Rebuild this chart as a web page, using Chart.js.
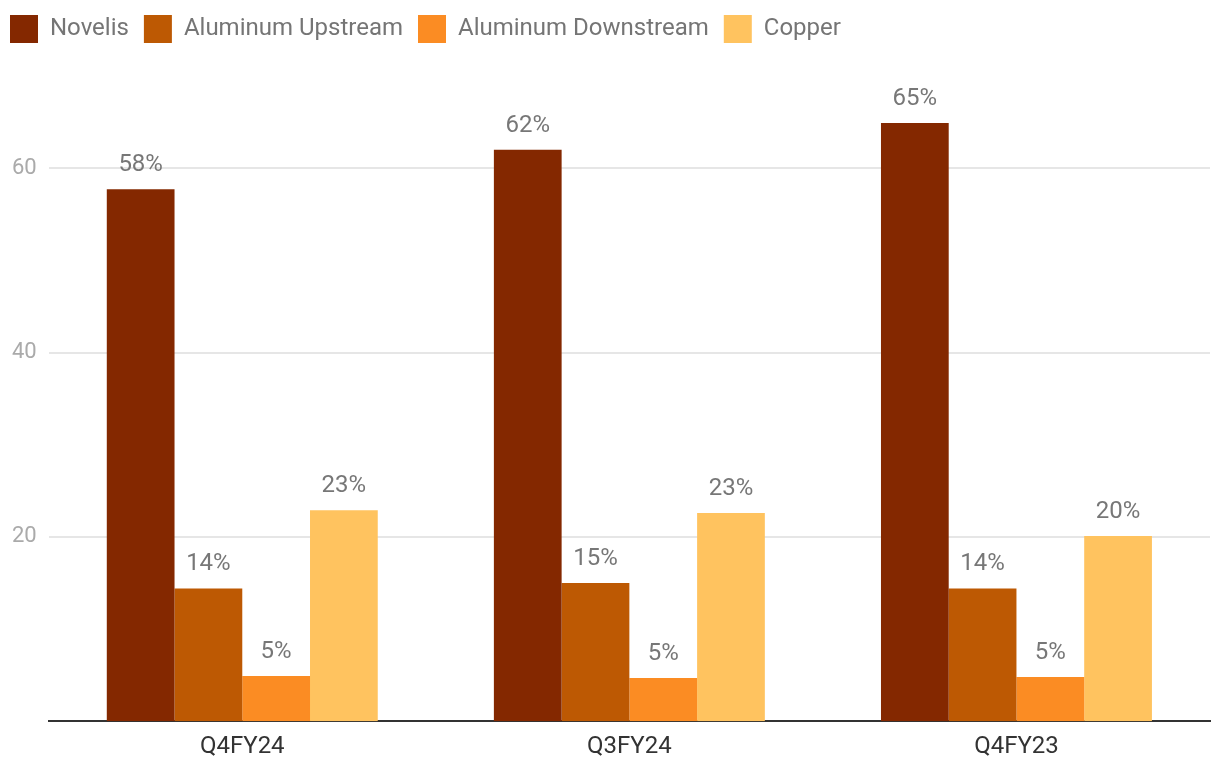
<!DOCTYPE html>
<html>
<head>
<meta charset="utf-8">
<script src="https://cdn.jsdelivr.net/npm/chart.js@4"></script>
<style>
  html, body { margin: 0; padding: 0; background: #fff; }
  #wrap { width: 1220px; height: 778px; }
</style>
</head>
<body>
<div id="wrap"><canvas id="metalChart" width="1220" height="778"></canvas></div>
<script>
// quarters on the x axis
const quarters = ['Q4FY24', 'Q3FY24', 'Q4FY23'];

// share of revenue, per segment
const novelis = [57.7, 62.0, 64.9];
const aluUpstream = [14.4, 15.0, 14.4];
const aluDownstream = [4.9, 4.7, 4.8];
const copper = [22.9, 22.6, 20.1];

const yTicks = [20, 40, 60];

// percent labels above each bar
const barLabels = {
  id: 'barLabels',
  afterDatasetsDraw(chart) {
    const ctx = chart.ctx;
    ctx.save();
    ctx.font = '24px Roboto';
    ctx.fillStyle = '#777777';
    ctx.textAlign = 'center';
    ctx.textBaseline = 'middle';
    chart.data.datasets.forEach((ds, i) => {
      chart.getDatasetMeta(i).data.forEach((bar, j) => {
        ctx.fillText(Math.round(ds.data[j]) + '%', bar.x, bar.y - 24);
      });
    });
    ctx.restore();
  }
};

// a bit more room under the legend, and pull it to the left edge
const legendSpace = {
  id: 'legendSpace',
  afterInit(chart) {
    const legend = chart.legend;
    const fit = legend.fit;
    legend.fit = function () {
      fit.call(this);
      this.height += 23;
    };
  },
  afterLayout(chart) {
    chart.legend.left -= 5;
    chart.legend.right -= 5;
  }
};

const ctx = document.getElementById('metalChart').getContext('2d');

const metalChart = new Chart(ctx, {
  type: 'bar',
  data: {
    labels: quarters,
    datasets: [
      { label: 'Novelis', data: novelis, backgroundColor: '#842800' },
      { label: 'Aluminum Upstream', data: aluUpstream, backgroundColor: '#BD5903' },
      { label: 'Aluminum Downstream', data: aluDownstream, backgroundColor: '#FB8C23' },
      { label: 'Copper', data: copper, backgroundColor: '#FFC35F' }
    ]
  },
  options: {
    responsive: false,
    maintainAspectRatio: false,
    animation: false,
    layout: { padding: { left: 0, right: 10, top: 0, bottom: 6 } },
    datasets: {
      bar: { barPercentage: 1, categoryPercentage: 0.7 }
    },
    plugins: {
      legend: {
        position: 'top',
        align: 'start',
        labels: {
          font: { family: 'Roboto', size: 24 },
          color: '#757575',
          boxWidth: 28,
          boxHeight: 28,
          padding: 15
        }
      },
      tooltip: { enabled: false }
    },
    scales: {
      x: {
        grid: { display: false, drawTicks: false },
        border: { display: true, color: '#333333', width: 2 },
        ticks: {
          font: { family: 'Roboto', size: 24 },
          color: '#333333',
          padding: 11
        }
      },
      y: {
        min: 0,
        max: 70,
        afterBuildTicks: axis => { axis.ticks = yTicks.map(v => ({ value: v })); },
        grid: { color: '#e6e6e6', lineWidth: 2, drawTicks: false },
        border: { display: false },
        ticks: {
          font: { family: 'Roboto', size: 22 },
          color: '#aaaaaa',
          padding: 12
        }
      }
    }
  },
  plugins: [barLabels, legendSpace]
});
</script>
</body>
</html>
